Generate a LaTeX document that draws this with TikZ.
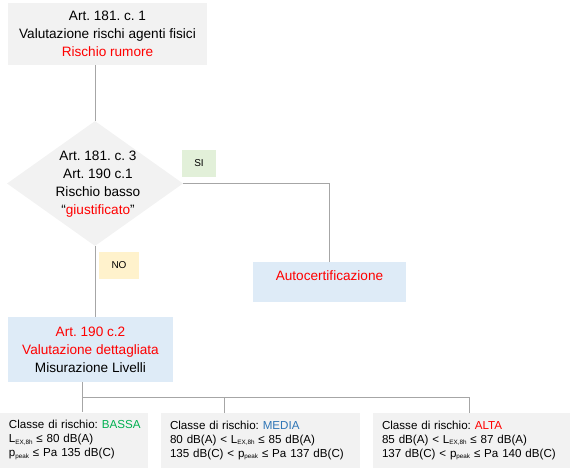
\documentclass[tikz,border=0pt]{standalone}
\usepackage{fontspec}
\setmainfont{Liberation Sans}
\usepackage{xcolor}
\usetikzlibrary{shapes.geometric, positioning}

\definecolor{boxgray}{HTML}{F2F2F2}
\definecolor{boxblue}{HTML}{DEEBF7}
\definecolor{tagverde}{HTML}{E2F0D9}
\definecolor{taggiallo}{HTML}{FFF2CC}
\definecolor{lineagrigia}{HTML}{A6A6A6}
\definecolor{rosso}{HTML}{FF0000}
\definecolor{verde}{HTML}{00B050}
\definecolor{azzurro}{HTML}{2E75B6}

\newcommand{\pedice}[1]{\raisebox{-1.3pt}{\fontsize{6.3}{6.3}\selectfont #1}}
\frenchspacing

\begin{document}
\begin{tikzpicture}[
        x=1pt, y=-1pt,
        box/.style={
            rectangle,
            fill=boxgray,
            align=center,
            inner sep=0pt,
            font=\fontsize{13.6}{18}\selectfont
        },
        bluebox/.style={
            box,
            fill=boxblue
        },
        testo/.style={
            align=center,
            inner sep=0pt,
            font=\fontsize{13.6}{18}\selectfont
        },
        tag/.style={
            rectangle,
            inner sep=0pt,
            minimum height=27pt,
            font=\fontsize{10}{12}\selectfont
        },
        classe/.style={
            rectangle,
            fill=boxgray,
            align=left,
            inner xsep=9pt,
            inner ysep=0pt,
            minimum height=55pt,
            font=\fontsize{11.6}{14}\selectfont\frenchspacing
        },
        linea/.style={
            draw=lineagrigia,
            line width=1pt
        }
    ]
        \useasboundingbox (0,0) rectangle (570,468);

        % Valutazione iniziale
        \node (norma) [box, minimum width=199pt, minimum height=62pt] at (107.5,34)
            {Art. 181. c. 1\\Valutazione rischi agenti fisici\\\textcolor{rosso}{Rischio rumore}};

        % Decisione
        \node (rischio) [diamond, fill=boxgray, inner sep=0pt, minimum width=176pt, minimum height=125pt] at (95,183.5) {};
        \node (rischiotxt) [testo] at (98,184)
            {Art. 181. c. 3\\Art. 190 c.1\\Rischio basso\\``\textcolor{rosso}{giustificato}''};

        \node (si) [tag, fill=tagverde, minimum width=34pt] at (199,163.5) {SI};
        \node (no) [tag, fill=taggiallo, minimum width=40pt] at (119,265.5) {NO};

        % Esiti
        \node (auto) [bluebox, minimum width=153pt, minimum height=40pt, text depth=12pt] at (329.5,282)
            {\textcolor{rosso}{Autocertificazione}};
        \node (det) [bluebox, minimum width=165pt, minimum height=65pt] at (90.5,349.5)
            {\textcolor{rosso}{Art. 190 c.2}\\\textcolor{rosso}{Valutazione dettagliata}\\Misurazione Livelli};

        % Classi di rischio
        \node (bassa) [classe, text width=130pt] at (74,440)
            {\mbox{Classe di rischio: \textcolor{verde}{BASSA}}\\L\pedice{EX,8h} ≤ 80 dB(A)\\p\pedice{peak} ≤ Pa 135 dB(C)};
        \node (media) [classe, text width=181pt] at (260.5,440.5)
            {Classe di rischio: \textcolor{azzurro}{MEDIA}\\80 dB(A) < L\pedice{EX,8h} ≤ 85 dB(A)\\135 dB(C) < p\pedice{peak} ≤ Pa 137 dB(C)};
        \node (alta) [classe, text width=179pt] at (471.5,440.5)
            {Classe di rischio: \textcolor{rosso}{ALTA}\\85 dB(A) < L\pedice{EX,8h} ≤ 87 dB(A)\\137 dB(C) < p\pedice{peak} ≤ Pa 140 dB(C)};

        \coordinate (d1) at (82,397);
        \coordinate (d2) at (224,397);
        \coordinate (d3) at (469,397);

        % Connections
        \draw [linea] (rischio.north |- norma.south) -- (rischio.north);
        \draw [linea] (rischio.east) -| (auto.north);
        \draw [linea] (rischio.south) -- (rischio.south |- det.north);
        \draw [linea] (d1 |- det.south) -- (d1 |- bassa.north);
        \draw [linea] (d1) -- (d3) -- (d3 |- alta.north);
        \draw [linea] (d2) -- (d2 |- media.north);
    \end{tikzpicture}
\end{document}
